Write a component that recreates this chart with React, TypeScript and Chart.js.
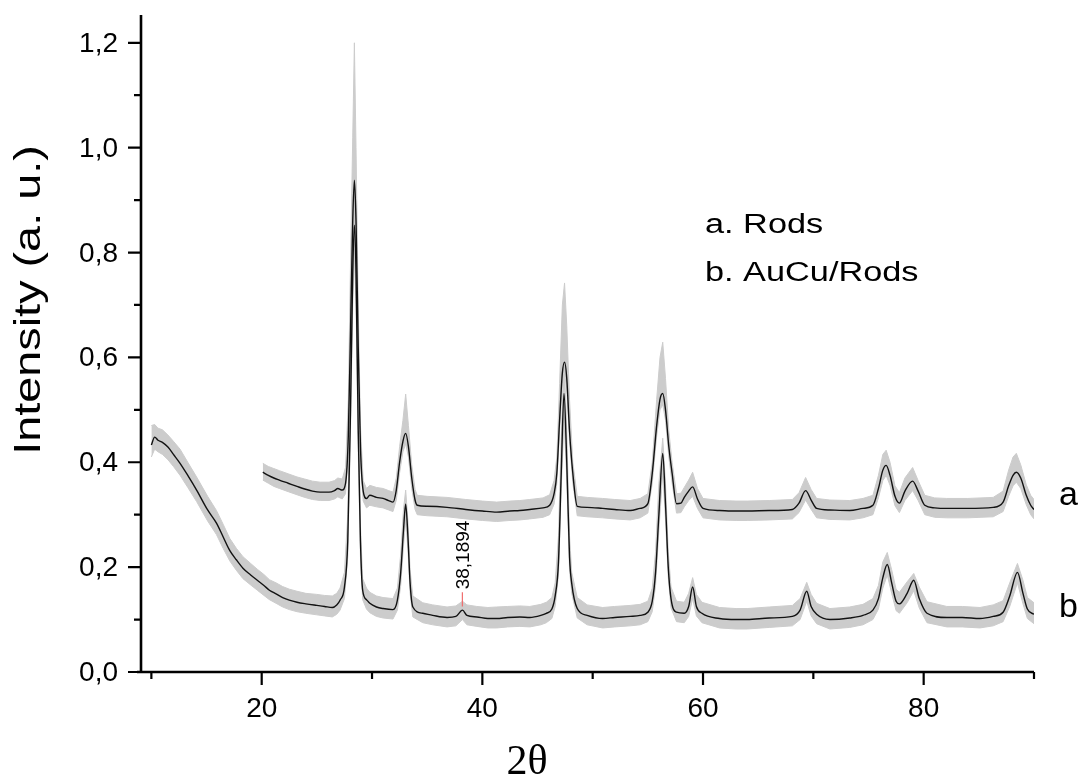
import React, { useEffect, useRef } from "react";
import { Chart, registerables } from "chart.js";

Chart.register(...registerables);

// ---------- Series b (AuCu/Rods), lower pattern ----------
const bX = [
  10.0, 10.3, 10.6, 11.0, 11.5, 12.0, 12.6, 13.3, 14.1, 15.1,
  15.9, 16.5, 17.1, 17.7, 18.3, 19.0, 19.6, 20.2, 20.7, 21.3,
  21.9, 22.5, 23.2, 24.0, 25.0, 25.7, 26.4, 26.8, 27.1, 27.5,
  27.8, 28.05, 28.25, 28.4, 28.55, 28.75, 28.95, 29.15, 29.5, 29.8,
  30.4, 31.0, 31.9, 32.3, 32.6, 32.85, 33.05, 33.25, 33.45, 33.7,
  34.6, 35.5, 36.8, 37.6, 38.2, 38.6, 39.5, 40.5, 41.3, 42.3,
  43.4, 44.3, 45.3, 45.8, 46.3, 46.6, 46.9, 47.15, 47.4, 47.65,
  47.9, 48.1, 48.6, 49.5, 50.9, 52.0, 53.4, 54.3, 55.0, 55.4,
  55.7, 56.0, 56.35, 56.6, 56.85, 57.1, 57.6, 58.3, 58.7, 59.06,
  59.4, 59.9, 61.5, 63.0, 64.0, 66.0, 68.1, 68.8, 69.4, 69.8,
  70.3, 71.5, 73.3, 74.5, 75.4, 75.9, 76.3, 76.7, 77.1, 77.5,
  77.8, 78.5, 79.1, 79.6, 80.3, 82.1, 83.5, 85.1, 86.3, 87.2,
  87.8, 88.5, 89.0, 89.4, 90.0,
];
const bSmooth = [
  0.433, 0.448, 0.442, 0.438, 0.429, 0.415, 0.398, 0.375, 0.347, 0.309,
  0.284, 0.258, 0.232, 0.214, 0.198, 0.185, 0.175, 0.165, 0.156, 0.149,
  0.142, 0.137, 0.133, 0.130, 0.127, 0.125, 0.123, 0.128, 0.137, 0.162,
  0.25, 0.5, 0.76, 0.852, 0.76, 0.46, 0.25, 0.156, 0.138, 0.131,
  0.124, 0.121, 0.119, 0.137, 0.19, 0.27, 0.32, 0.26, 0.17, 0.124,
  0.112, 0.108, 0.104, 0.106, 0.118, 0.108, 0.105, 0.102, 0.102, 0.104,
  0.105, 0.104, 0.108, 0.112, 0.12, 0.145, 0.21, 0.38, 0.531, 0.40,
  0.22, 0.169, 0.121, 0.108, 0.102, 0.104, 0.106, 0.108, 0.114, 0.135,
  0.19, 0.30, 0.417, 0.32, 0.20, 0.14, 0.114, 0.112, 0.125, 0.162,
  0.125, 0.112, 0.102, 0.100, 0.100, 0.103, 0.106, 0.118, 0.154, 0.125,
  0.110, 0.100, 0.103, 0.108, 0.118, 0.14, 0.18, 0.205, 0.17, 0.135,
  0.130, 0.150, 0.175, 0.14, 0.112, 0.104, 0.104, 0.102, 0.106, 0.114,
  0.145, 0.19, 0.15, 0.12, 0.11,
];
const bRawHigh = [
  0.470, 0.472, 0.465, 0.462, 0.452, 0.440, 0.425, 0.400, 0.372, 0.335,
  0.308, 0.282, 0.255, 0.236, 0.220, 0.207, 0.196, 0.186, 0.176, 0.170,
  0.163, 0.158, 0.154, 0.150, 0.148, 0.146, 0.145, 0.150, 0.160, 0.190,
  0.30, 0.58, 0.88, 1.00, 0.86, 0.52, 0.28, 0.178, 0.160, 0.152,
  0.145, 0.142, 0.140, 0.160, 0.225, 0.31, 0.347, 0.29, 0.195, 0.145,
  0.132, 0.128, 0.124, 0.126, 0.135, 0.128, 0.125, 0.123, 0.124, 0.125,
  0.126, 0.125, 0.129, 0.133, 0.142, 0.170, 0.26, 0.45, 0.60, 0.46,
  0.26, 0.190, 0.142, 0.128, 0.123, 0.125, 0.127, 0.129, 0.135, 0.160,
  0.23, 0.36, 0.446, 0.36, 0.23, 0.162, 0.135, 0.133, 0.150, 0.180,
  0.148, 0.133, 0.123, 0.121, 0.121, 0.124, 0.127, 0.140, 0.171, 0.148,
  0.131, 0.121, 0.124, 0.129, 0.140, 0.165, 0.21, 0.228, 0.195, 0.158,
  0.152, 0.172, 0.188, 0.162, 0.134, 0.125, 0.125, 0.123, 0.128, 0.136,
  0.170, 0.207, 0.175, 0.142, 0.132,
];
const bRawLow = [
  0.410, 0.425, 0.420, 0.415, 0.405, 0.392, 0.375, 0.352, 0.325, 0.288,
  0.262, 0.236, 0.212, 0.194, 0.178, 0.166, 0.156, 0.146, 0.138, 0.131,
  0.124, 0.119, 0.115, 0.112, 0.109, 0.107, 0.105, 0.110, 0.118, 0.140,
  0.22, 0.46, 0.70, 0.80, 0.70, 0.42, 0.22, 0.138, 0.120, 0.113,
  0.106, 0.103, 0.101, 0.118, 0.165, 0.24, 0.29, 0.235, 0.15, 0.105,
  0.094, 0.090, 0.086, 0.088, 0.100, 0.090, 0.087, 0.084, 0.084, 0.086,
  0.087, 0.086, 0.090, 0.094, 0.102, 0.125, 0.185, 0.35, 0.48, 0.37,
  0.195, 0.150, 0.103, 0.090, 0.084, 0.086, 0.088, 0.090, 0.096, 0.115,
  0.165, 0.27, 0.38, 0.29, 0.18, 0.122, 0.096, 0.094, 0.106, 0.140,
  0.107, 0.094, 0.084, 0.082, 0.082, 0.085, 0.088, 0.100, 0.135, 0.107,
  0.092, 0.082, 0.085, 0.090, 0.100, 0.120, 0.16, 0.185, 0.15, 0.117,
  0.112, 0.132, 0.155, 0.122, 0.094, 0.086, 0.086, 0.084, 0.088, 0.096,
  0.125, 0.17, 0.13, 0.102, 0.092,
];

// ---------- Series a (Rods), upper pattern ----------
const aX = [
  20.1, 20.6, 21.1, 21.6, 22.4, 23.2, 23.9, 24.6, 25.3, 26.1,
  26.6, 26.9, 27.3, 27.6, 27.85, 28.05, 28.25, 28.4, 28.55, 28.75,
  28.95, 29.2, 29.5, 29.8, 30.4, 31.0, 31.5, 31.9, 32.2, 32.5,
  32.8, 33.05, 33.3, 33.6, 33.9, 34.1, 35.0, 36.8, 38.5, 40.0,
  41.3, 42.5, 43.4, 44.3, 45.5, 46.1, 46.5, 46.75, 47.0, 47.25,
  47.45, 47.65, 47.9, 48.2, 48.6, 49.5, 50.9, 52.0, 53.4, 54.3,
  55.0, 55.4, 55.8, 56.1, 56.35, 56.6, 56.9, 57.2, 57.6, 58.0,
  58.3, 58.7, 59.06, 59.5, 60.0, 61.5, 63.0, 64.0, 66.0, 68.1,
  68.7, 69.3, 69.8, 70.3, 71.5, 73.3, 74.5, 75.4, 75.9, 76.3,
  76.6, 76.95, 77.4, 77.8, 78.3, 79.0, 79.5, 80.1, 81.0, 82.1,
  84.0, 86.3, 87.2, 87.7, 88.1, 88.4, 88.8, 89.3, 89.7, 90.0,
];
const aSmooth = [
  0.381, 0.375, 0.370, 0.366, 0.360, 0.354, 0.349, 0.345, 0.343, 0.343,
  0.346, 0.350, 0.347, 0.36, 0.45, 0.65, 0.86, 0.938, 0.86, 0.62,
  0.43, 0.345, 0.331, 0.337, 0.333, 0.331, 0.327, 0.324, 0.347, 0.40,
  0.44, 0.455, 0.43, 0.37, 0.328, 0.318, 0.316, 0.314, 0.31, 0.307,
  0.305, 0.307, 0.308, 0.31, 0.313, 0.318, 0.34, 0.379, 0.48, 0.57,
  0.591, 0.56, 0.46, 0.379, 0.316, 0.314, 0.312, 0.31, 0.308, 0.312,
  0.321, 0.379, 0.47, 0.52, 0.531, 0.50, 0.43, 0.379, 0.321, 0.322,
  0.333, 0.345, 0.353, 0.33, 0.312, 0.308, 0.307, 0.307, 0.308, 0.31,
  0.322, 0.346, 0.328, 0.312, 0.309, 0.308, 0.312, 0.318, 0.35, 0.385,
  0.394, 0.375, 0.335, 0.322, 0.345, 0.364, 0.345, 0.318, 0.313, 0.312,
  0.312, 0.314, 0.324, 0.355, 0.375, 0.381, 0.37, 0.337, 0.318, 0.31,
];
const aRawHigh = [
  0.398, 0.392, 0.388, 0.384, 0.378, 0.372, 0.368, 0.364, 0.362, 0.362,
  0.365, 0.370, 0.368, 0.39, 0.52, 0.78, 1.02, 1.20, 1.00, 0.70,
  0.47, 0.365, 0.350, 0.356, 0.352, 0.350, 0.346, 0.343, 0.370, 0.43,
  0.48, 0.53, 0.47, 0.395, 0.348, 0.337, 0.335, 0.333, 0.329, 0.326,
  0.324, 0.326, 0.327, 0.329, 0.332, 0.338, 0.365, 0.41, 0.55, 0.70,
  0.742, 0.66, 0.52, 0.40, 0.335, 0.333, 0.331, 0.329, 0.327, 0.331,
  0.340, 0.40, 0.52, 0.60, 0.629, 0.56, 0.46, 0.400, 0.340, 0.341,
  0.352, 0.366, 0.381, 0.350, 0.331, 0.327, 0.326, 0.326, 0.327, 0.329,
  0.342, 0.371, 0.348, 0.331, 0.328, 0.327, 0.331, 0.337, 0.375, 0.415,
  0.423, 0.400, 0.355, 0.342, 0.370, 0.390, 0.365, 0.337, 0.332, 0.331,
  0.331, 0.333, 0.345, 0.385, 0.41, 0.417, 0.395, 0.357, 0.337, 0.329,
];
const aRawLow = [
  0.366, 0.360, 0.354, 0.350, 0.344, 0.338, 0.333, 0.329, 0.327, 0.327,
  0.330, 0.334, 0.330, 0.34, 0.42, 0.62, 0.82, 0.90, 0.82, 0.58,
  0.40, 0.326, 0.313, 0.318, 0.315, 0.313, 0.309, 0.306, 0.328, 0.38,
  0.42, 0.435, 0.41, 0.35, 0.31, 0.300, 0.298, 0.296, 0.292, 0.289,
  0.287, 0.289, 0.290, 0.292, 0.295, 0.300, 0.320, 0.36, 0.46, 0.55,
  0.57, 0.54, 0.44, 0.36, 0.298, 0.296, 0.294, 0.292, 0.290, 0.294,
  0.303, 0.36, 0.45, 0.50, 0.51, 0.48, 0.41, 0.36, 0.303, 0.304,
  0.315, 0.327, 0.335, 0.312, 0.294, 0.290, 0.289, 0.289, 0.290, 0.292,
  0.304, 0.328, 0.310, 0.294, 0.291, 0.290, 0.294, 0.300, 0.332, 0.365,
  0.375, 0.356, 0.317, 0.304, 0.327, 0.346, 0.327, 0.300, 0.295, 0.294,
  0.294, 0.296, 0.306, 0.335, 0.355, 0.362, 0.35, 0.319, 0.300, 0.292,
];

// ---------- Axes / labels ----------
const xMin = 9.06;
const xMax = 90;
const yMin = 0;
const yMax = 1.253;
const xMajorTicks = [20, 40, 60, 80];
const xTickLabels = ["20", "40", "60", "80"];
const xMinorTicks = [10, 30, 50, 70, 90];
const yMajorTicks = [0, 0.2, 0.4, 0.6, 0.8, 1.0, 1.2];
const yTickLabels = ["0,0", "0,2", "0,4", "0,6", "0,8", "1,0", "1,2"];
const yMinorTicks = [0.1, 0.3, 0.5, 0.7, 0.9, 1.1];
const xTitle = "2θ";
const yTitle = "Intensity (a. u.)";
const legendLines = ["a. Rods", "b. AuCu/Rods"];
const curveTags = ["a", "b"];
const curveTagValues = [0.318, 0.104];
const peakMarkX = 38.1894;
const peakMarkRange = [0.125, 0.152];
const peakMarkText = "38,1894";

const toPoints = (xs: number[], ys: number[]) => xs.map((x, i) => ({ x, y: ys[i] }));

const GRAY = "rgb(204,204,204)";
const BLACK = "rgb(18,18,18)";
const SANS = "'Liberation Sans', Arial, sans-serif";

const decorPlugin = {
  id: "decor",
  afterDraw(chart: any) {
    const ctx = chart.ctx as CanvasRenderingContext2D;
    const xs = chart.scales.x;
    const ys = chart.scales.y;
    const ca = chart.chartArea;
    ctx.save();
    ctx.strokeStyle = "#000";
    ctx.fillStyle = "#000";
    ctx.lineWidth = 2.6;
    ctx.lineCap = "butt";
    // axis lines
    ctx.beginPath();
    ctx.moveTo(ca.left, ca.top);
    ctx.lineTo(ca.left, ca.bottom + 1.3);
    ctx.moveTo(ca.left - 4, ca.bottom);
    ctx.lineTo(ca.right, ca.bottom);
    ctx.stroke();
    // ticks
    ctx.lineWidth = 2.2;
    ctx.beginPath();
    yMajorTicks.forEach((v) => {
      const y = ys.getPixelForValue(v);
      ctx.moveTo(ca.left - 13, y);
      ctx.lineTo(ca.left, y);
    });
    yMinorTicks.forEach((v) => {
      const y = ys.getPixelForValue(v);
      ctx.moveTo(ca.left - 7, y);
      ctx.lineTo(ca.left, y);
    });
    xMajorTicks.forEach((v) => {
      const x = xs.getPixelForValue(v);
      ctx.moveTo(x, ca.bottom);
      ctx.lineTo(x, ca.bottom + 13);
    });
    xMinorTicks.forEach((v) => {
      const x = xs.getPixelForValue(v);
      ctx.moveTo(x, ca.bottom);
      ctx.lineTo(x, ca.bottom + 7);
    });
    ctx.stroke();

    // tick labels
    ctx.font = `28px ${SANS}`;
    ctx.textAlign = "right";
    ctx.textBaseline = "alphabetic";
    yMajorTicks.forEach((v, i) => {
      const y = ys.getPixelForValue(v);
      ctx.fillText(yTickLabels[i], ca.left - 23, y + 9);
    });
    ctx.textAlign = "center";
    xMajorTicks.forEach((v, i) => {
      const x = xs.getPixelForValue(v);
      ctx.fillText(xTickLabels[i], x, ca.bottom + 45);
    });

    // axis titles
    ctx.font = `42px 'Liberation Serif', 'Times New Roman', serif`;
    ctx.textAlign = "center";
    ctx.fillText(xTitle, 527, 774);

    ctx.save();
    ctx.translate(40, 300);
    ctx.rotate(-Math.PI / 2);
    ctx.scale(1.3, 1);
    ctx.font = `36px ${SANS}`;
    ctx.textAlign = "center";
    ctx.fillText(yTitle, 0, 0);
    ctx.restore();

    // legend text
    ctx.font = `27px ${SANS}`;
    ctx.textAlign = "left";
    legendLines.forEach((t, i) => {
      ctx.save();
      ctx.translate(705, 233 + i * 48);
      ctx.scale(1.27, 1);
      ctx.fillText(t, 0, 0);
      ctx.restore();
    });

    // curve tags
    ctx.font = `34px ${SANS}`;
    ctx.textAlign = "left";
    curveTags.forEach((t, i) => {
      const y = ys.getPixelForValue(curveTagValues[i]);
      ctx.fillText(t, ca.right + 25, y);
    });

    // peak marker
    const px = xs.getPixelForValue(peakMarkX);
    ctx.strokeStyle = "rgb(240,110,110)";
    ctx.lineWidth = 1.2;
    ctx.beginPath();
    ctx.moveTo(px, ys.getPixelForValue(peakMarkRange[0]));
    ctx.lineTo(px, ys.getPixelForValue(peakMarkRange[1]));
    ctx.stroke();
    ctx.save();
    ctx.translate(px + 7, ys.getPixelForValue(peakMarkRange[1]) - 3);
    ctx.rotate(-Math.PI / 2);
    ctx.font = `19px ${SANS}`;
    ctx.textAlign = "left";
    ctx.fillStyle = "#000";
    ctx.fillText(peakMarkText, 0, 0);
    ctx.restore();

    ctx.restore();
  },
};

export default function App() {
  const ref = useRef<HTMLCanvasElement>(null);
  useEffect(() => {
    if (!ref.current) return;
    const rawStyle = (fill: any) => ({
      borderColor: GRAY,
      backgroundColor: GRAY,
      borderWidth: 1,
      pointRadius: 0,
      fill,
      order: 2,
    });
    const chart = new Chart(ref.current, {
      type: "line",
      data: {
        datasets: [
          { label: "a raw high", data: toPoints(aX, aRawHigh), ...rawStyle("+1") },
          { label: "a raw low", data: toPoints(aX, aRawLow), ...rawStyle(false) },
          { label: "b raw high", data: toPoints(bX, bRawHigh), ...rawStyle("+1") },
          { label: "b raw low", data: toPoints(bX, bRawLow), ...rawStyle(false) },
          {
            label: "a. Rods",
            data: toPoints(aX, aSmooth),
            borderColor: BLACK,
            borderWidth: 1.4,
            pointRadius: 0,
            fill: false,
            cubicInterpolationMode: "monotone",
            order: 0,
          },
          {
            label: "b. AuCu/Rods",
            data: toPoints(bX, bSmooth),
            borderColor: BLACK,
            borderWidth: 1.4,
            pointRadius: 0,
            fill: false,
            cubicInterpolationMode: "monotone",
            order: 0,
          },
        ],
      } as any,
      options: {
        animation: false,
        responsive: false,
        devicePixelRatio: 1,
        layout: { padding: { left: 141, right: 46, top: 15, bottom: 106 } },
        scales: {
          x: { type: "linear", min: xMin, max: xMax, display: false },
          y: { type: "linear", min: yMin, max: yMax, display: false },
        },
        plugins: {
          legend: { display: false },
          tooltip: { enabled: false },
        },
        elements: { line: { tension: 0 } },
      } as any,
      plugins: [decorPlugin],
    });
    return () => chart.destroy();
  }, []);
  return (
    <div style={{ position: "fixed", left: 0, top: 0, width: 1080, height: 778, background: "#fff" }}>
      <canvas ref={ref} width={1080} height={778} style={{ display: "block", width: 1080, height: 778 }} />
    </div>
  );
}
